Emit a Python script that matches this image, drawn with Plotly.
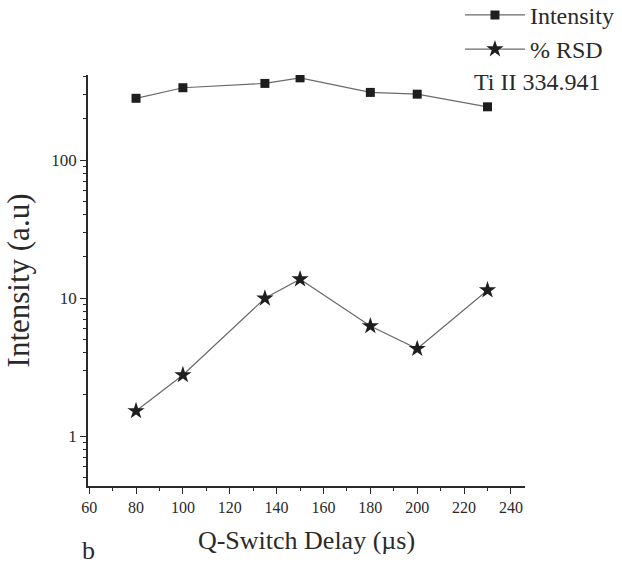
import plotly.graph_objects as go

delay = [80, 100, 135, 150, 180, 200, 230]
intensity = [280, 334, 359, 394, 309, 300, 243]
rsd = [1.52, 2.77, 9.95, 13.7, 6.27, 4.29, 11.4]

x_ticks = [60, 80, 100, 120, 140, 160, 180, 200, 220, 240]
y_ticks = [1, 10, 100]
y_ticklabels = ["1", "10", "100"]
y_minor = [0.5, 0.6, 0.7, 0.8, 0.9, 2, 3, 4, 5, 6, 7, 8, 9,
           20, 30, 40, 50, 60, 70, 80, 90, 200, 300, 400]

FONT = "Liberation Serif"
INK = "#2a2a2a"

fig = go.Figure()
fig.add_trace(go.Scatter(
    x=delay, y=intensity, mode="lines+markers", name="Intensity",
    line=dict(color="#6a6a6a", width=1.2),
    marker=dict(symbol="square", size=9, color="#1e1e1e"),
))
fig.add_trace(go.Scatter(
    x=delay, y=rsd, mode="lines+markers", name="% RSD",
    line=dict(color="#6a6a6a", width=1.2),
    marker=dict(symbol="star", size=13, color="#1e1e1e"),
))

fig.update_layout(
    width=622, height=571,
    margin=dict(l=88, r=97, t=75, b=85, autoexpand=False),
    paper_bgcolor="white", plot_bgcolor="white",
    font=dict(family=FONT, color=INK),
    showlegend=True,
    legend=dict(
        x=1.215, y=1.2, xanchor="right", yanchor="top",
        font=dict(family=FONT, size=24, color=INK),
        itemwidth=60, bgcolor="rgba(0,0,0,0)",
        tracegroupgap=0,
    ),
    xaxis=dict(
        range=[59.5, 246],
        tickvals=x_ticks,
        ticks="outside", ticklen=6, tickwidth=1.2, tickcolor=INK,
        minor=dict(ticks="outside", ticklen=3, dtick=10, tickcolor=INK, tickwidth=1),
        showline=True, linecolor=INK, linewidth=1.5,
        showgrid=False, zeroline=False,
        tickfont=dict(family=FONT, size=16, color=INK),
        title=dict(text="Q-Switch Delay (µs)", font=dict(family=FONT, size=26, color=INK), standoff=16),
    ),
    yaxis=dict(
        type="log",
        range=[-0.362, 2.616],
        tickvals=y_ticks, ticktext=y_ticklabels,
        ticks="outside", ticklen=6, tickwidth=1.2, tickcolor=INK,
        minor=dict(ticks="outside", ticklen=3, tickvals=y_minor, tickcolor=INK, tickwidth=1),
        showline=True, linecolor=INK, linewidth=1.5,
        showgrid=False, zeroline=False,
        tickfont=dict(family=FONT, size=17, color=INK),
        title=dict(text="Intensity (a.u)", font=dict(family=FONT, size=31, color=INK), standoff=12),
    ),
    annotations=[
        dict(text="Ti II 334.941", x=1.027, y=0.983, xref="paper", yref="paper",
             xanchor="center", yanchor="middle",
             showarrow=False, font=dict(family=FONT, size=24, color=INK)),
        dict(text="b", x=0.0, y=-0.158, xref="paper", yref="paper",
             xanchor="center", yanchor="middle",
             showarrow=False, font=dict(family=FONT, size=26, color=INK)),
    ],
)

fig.write_html("out.html")
